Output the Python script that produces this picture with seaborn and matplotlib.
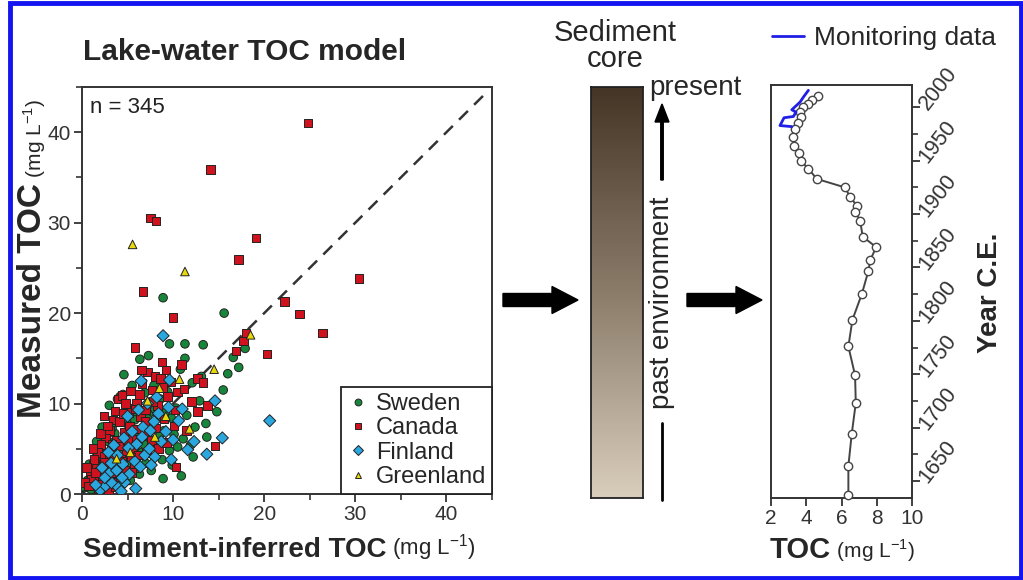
import numpy as np
import pandas as pd
import matplotlib
matplotlib.use("Agg")
import matplotlib.pyplot as plt
import seaborn as sns
from matplotlib.colors import LinearSegmentedColormap
from matplotlib.patches import Rectangle, FancyArrow
from matplotlib.ticker import MultipleLocator

# --- lake-water TOC model: sediment-inferred (x) vs measured (y), mg/L ---
sweden_x = [8.9, 15.6, 9.6, 11.3, 13.3, 6.35, 7.3, 11.3, 17.9, 16.6, 17.2, 15.5, 12.9, 13.6, 13.7, 12.2, 10.9, 8.9,
            4.2, 4.5, 3.9, 5.2, 6.1, 7.4, 8.3, 9.0, 10.1, 11.1, 10.5, 9.6, 8.2, 7.3, 6.5, 5.6, 4.8, 3.9, 3.1, 2.5,
            1.8, 1.2, 0.6, 0.3, 2.2, 3.4, 4.1, 5.0, 6.0, 7.0, 7.6, 6.3, 5.3, 4.4, 2.9, 3.6, 4.9, 5.8, 6.9, 7.9,
            8.6, 9.4, 10.3, 11.5, 12.4, 6.6, 8.8, 9.9, 1.5, 2.0, 2.7, 3.3, 12.1, 13.1, 10.8, 4.6, 5.5, 14.8,
            16.0, 1.0, 1.9, 2.8, 3.7, 4.3, 5.9, 7.8, 8.5, 9.2, 11.9, 0.8, 0.15,
            1.3, 2.4, 3.2, 4.8, 5.4, 6.8, 7.2, 8.0, 3.0, 2.2, 1.6, 9.8]
sweden_y = [21.7, 20.0, 16.6, 16.6, 16.5, 14.9, 15.3, 15.0, 16.1, 15.1, 14.0, 11.5, 10.3, 7.8, 6.3, 4.1, 2.0, 1.7,
            10.8, 11.0, 10.5, 9.5, 8.8, 9.0, 8.5, 7.0, 6.6, 6.1, 5.2, 4.8, 5.5, 6.2, 7.1, 6.5, 5.8, 5.1, 4.4, 3.8,
            3.0, 2.2, 1.5, 0.7, 1.3, 2.0, 2.7, 3.3, 3.9, 3.4, 2.6, 2.2, 1.5, 1.1, 5.8, 6.7, 7.8, 8.2, 11.2, 12.0,
            10.5, 11.3, 9.5, 8.7, 7.4, 4.6, 3.8, 3.2, 4.0, 5.1, 6.8, 7.3, 12.3, 13.0, 13.8, 13.2, 12.0, 9.1,
            13.3, 0.5, 2.1, 2.9, 3.6, 4.4, 5.3, 7.4, 6.4, 9.0, 5.4, 3.3, 0.8,
            3.5, 2.5, 1.1, 2.2, 4.4, 5.5, 8.3, 9.4, 9.8, 7.4, 5.8, 8.4]

canada_x = [24.8, 14.1, 7.5, 8.1, 19.1, 17.2, 30.4, 22.2, 6.7, 23.9, 26.4, 10.0, 20.3, 5.8, 16.9, 17.7, 10.9, 9.2,
            12.7, 13.3, 12.0, 13.8, 14.6, 10.3, 18.0,
            4.0, 4.4, 5.3, 6.6, 7.2, 8.0, 7.7, 8.6, 9.4, 10.5, 11.2, 6.0, 5.1, 6.4, 7.0, 8.3, 9.0, 10.1, 11.5,
            3.4, 3.0, 2.6, 2.1, 1.7, 1.3, 2.4, 3.2, 3.8, 4.6, 5.2, 5.9, 6.8, 7.6, 8.4, 9.3, 4.2, 4.9, 5.6, 3.3,
            2.7, 2.0, 1.4, 1.1, 1.8, 2.6, 3.5, 4.2, 4.7, 5.7, 1.6, 2.3, 3.0, 3.9, 0.9, 1.2, 2.0, 2.8, 4.1, 5.8,
            7.3, 8.1, 2.9, 3.6, 4.0, 5.0, 6.2, 7.1, 1.0, 0.5, 3.7, 2.2, 6.5, 10.2, 12.7, 8.8, 9.7, 0.3,
            1.5, 2.5, 3.1, 4.4, 5.4, 6.0, 6.9, 7.8, 8.9, 3.6, 4.8, 2.4, 1.9, 3.3, 5.5, 0.7, 4.5, 6.3]
canada_y = [41.0, 35.9, 30.5, 30.2, 28.3, 25.9, 23.8, 21.3, 22.4, 19.9, 17.8, 19.5, 15.5, 16.2, 15.8, 16.9, 14.3, 13.7,
            12.8, 12.3, 10.2, 9.8, 5.3, 3.0, 17.8,
            10.5, 10.9, 11.4, 12.2, 13.5, 13.0, 11.5, 12.8, 10.8, 11.3, 11.6, 10.0, 9.0, 8.5, 9.3, 9.8, 8.3, 7.5, 7.0,
            8.2, 7.0, 6.2, 5.5, 4.6, 3.8, 4.2, 4.8, 5.9, 6.8, 7.5, 6.1, 6.6, 5.9, 5.0, 5.7, 4.0, 4.8, 5.1, 3.2,
            2.6, 2.0, 1.6, 0.9, 0.6, 1.1, 1.4, 1.9, 2.6, 2.9, 2.8, 3.3, 3.9, 3.0, 2.3, 5.0, 6.7, 7.5, 8.0, 9.4,
            7.7, 7.3, 0.5, 0.8, 5.3, 6.0, 4.3, 4.6, 1.6, 2.9, 2.2, 1.4, 13.7, 9.3, 9.1, 14.6, 12.4, 1.3,
            2.4, 3.5, 2.4, 3.6, 4.1, 7.2, 8.0, 10.2, 11.8, 9.2, 10.0, 8.6, 1.1, 5.5, 2.4, 0.9, 8.9, 11.0]

finland_x = [8.9, 6.5, 9.6, 14.6, 20.6, 15.4, 13.7,
             2.0, 2.6, 3.3, 4.0, 4.7, 3.0, 3.8, 4.5, 5.2, 5.8, 6.4, 6.9, 7.4, 8.0, 8.7, 9.2, 10.0, 10.6, 7.9,
             6.7, 5.5, 4.6, 5.0, 6.2, 7.2, 8.2, 9.5, 11.0, 3.5, 2.5, 1.5, 5.9, 4.4, 3.2, 6.0, 7.6, 9.8, 11.6, 12.3,
             2.2, 3.9, 5.1, 6.6, 7.5, 8.4, 4.3, 2.9]
finland_y = [17.5, 12.5, 12.6, 10.3, 8.1, 6.2, 4.4,
             0.4, 0.9, 1.2, 0.7, 1.3, 2.3, 2.6, 3.3, 2.2, 3.6, 3.0, 4.3, 5.0, 4.1, 5.8, 6.9, 6.0, 8.1, 8.0,
             7.4, 6.9, 6.2, 8.6, 9.3, 10.0, 10.7, 9.6, 9.4, 5.4, 1.8, 1.0, 0.6, 1.8, 3.4, 5.5, 3.2, 3.8, 4.9, 5.8,
             2.9, 4.3, 5.1, 6.3, 7.0, 8.9, 0.3, 4.6]

greenland_x = [5.55, 11.3, 18.5, 14.5, 10.7, 8.5, 11.8, 3.8, 9.2, 7.2, 5.3, 8.0]
greenland_y = [27.6, 24.6, 17.6, 13.8, 12.7, 11.7, 7.2, 3.9, 8.6, 10.3, 4.6, 6.3]

# --- sediment core reconstruction (TOC mg/L by year C.E.) ---
core_years = [2011, 2007, 2003.5, 2000, 1995.5, 1991, 1985, 1980, 1972, 1964, 1957, 1950, 1942.5, 1933, 1925,
              1916, 1908, 1902, 1894, 1879, 1869, 1857, 1847, 1825, 1801, 1776, 1749, 1723, 1694, 1664, 1637]
core_toc = [4.65, 4.31, 4.12, 3.84, 3.65, 3.70, 3.55, 3.36, 3.27, 3.31, 3.61, 3.70, 4.12, 4.60, 6.20,
            6.49, 6.87, 6.77, 7.06, 7.20, 7.97, 7.63, 7.53, 7.15, 6.62, 6.39, 6.77, 6.81, 6.58, 6.39, 6.39]

monitor_years = [2016, 2009.7, 2005, 1997.8, 1995.6, 1991.5, 1990.3, 1983, 1982]
monitor_toc = [4.12, 3.84, 3.65, 3.18, 3.42, 3.27, 2.74, 2.51, 3.18]

countries = ["Sweden", "Canada", "Finland", "Greenland"]
palette = {"Sweden": "#17863b", "Canada": "#d0121f", "Finland": "#2ba7e0", "Greenland": "#e8d80c"}
markers = {"Sweden": "o", "Canada": "s", "Finland": "D", "Greenland": "^"}

df = pd.concat([
    pd.DataFrame({"inferred": sweden_x, "measured": sweden_y, "country": "Sweden"}),
    pd.DataFrame({"inferred": canada_x, "measured": canada_y, "country": "Canada"}),
    pd.DataFrame({"inferred": finland_x, "measured": finland_y, "country": "Finland"}),
    pd.DataFrame({"inferred": greenland_x, "measured": greenland_y, "country": "Greenland"}),
], ignore_index=True)

sns.set_theme(style="ticks")
plt.rcParams["font.family"] = ["Liberation Sans", "DejaVu Sans"]
plt.rcParams["mathtext.fontset"] = "custom"
plt.rcParams["mathtext.rm"] = "Liberation Sans"
plt.rcParams["mathtext.bf"] = "Liberation Sans:bold"
plt.rcParams["axes.edgecolor"] = "#333333"
plt.rcParams["axes.linewidth"] = 1.4

W, H = 1023, 580
fig = plt.figure(figsize=(W / 100, H / 100), dpi=100)


def px_axes(left, top, right, bottom, **kw):
    return fig.add_axes([left / W, 1 - bottom / H, (right - left) / W, (bottom - top) / H], **kw)


# ---------- scatter ----------
ax = px_axes(82, 87, 492, 494)
ax.plot([0, 44.5], [0, 44.5], color="#333333", lw=1.8, ls=(0, (5, 3.5)), zorder=1)
sns.scatterplot(data=df, x="inferred", y="measured", hue="country", style="country",
                hue_order=countries, style_order=countries, palette=palette, markers=markers,
                s=38, edgecolor="#222222", linewidth=0.7, ax=ax, zorder=3)
ax.set_xlim(0, 45)
ax.set_ylim(0, 45)
ax.xaxis.set_major_locator(MultipleLocator(10))
ax.yaxis.set_major_locator(MultipleLocator(10))
ax.xaxis.set_minor_locator(MultipleLocator(5))
ax.yaxis.set_minor_locator(MultipleLocator(5))
ax.tick_params(which="major", length=6, width=1.3, labelsize=15, colors="#333333", pad=2)
ax.tick_params(which="minor", length=4, width=1.2, colors="#333333")
ax.set_xlabel("")
ax.set_ylabel("")
ax.text(0.02, 0.975, "n = 345", transform=ax.transAxes, ha="left", va="top", fontsize=16, color="#222222")

leg = ax.get_legend()
handles = leg.legend_handles
labels = [t.get_text() for t in leg.texts]
leg.remove()
lg = ax.legend(handles, labels, loc="lower right", borderaxespad=0, fontsize=17, frameon=True,
               fancybox=False, framealpha=1, edgecolor="#222222", borderpad=0.25, labelspacing=0.1,
               handlelength=0.9, handletextpad=0.3, markerscale=0.8)
lg.get_frame().set_linewidth(1.3)

# ---------- sediment core ----------
core_cmap = LinearSegmentedColormap.from_list("core", ["#453526", "#8b7c6a", "#d9cdbb"])
axc = px_axes(591, 87, 643, 498)
axc.imshow(np.linspace(0, 1, 256)[:, None], aspect="auto", cmap=core_cmap, extent=[0, 1, 0, 1])
axc.set_xticks([])
axc.set_yticks([])
for sp in axc.spines.values():
    sp.set_color("#222222")
    sp.set_linewidth(1.3)

# ---------- TOC profile ----------
axp = px_axes(771, 85, 912, 498)
sns.lineplot(x=core_toc, y=core_years, sort=False, estimator=None, ax=axp, color="#444444", lw=1.4,
             marker="o", markersize=6, markerfacecolor="white", markeredgecolor="#444444",
             markeredgewidth=1.0, clip_on=False, zorder=3)
sns.lineplot(x=monitor_toc, y=monitor_years, sort=False, estimator=None, ax=axp, color="#1f1fe6", lw=2,
             label="Monitoring data", zorder=4)
mh, ml = axp.get_legend_handles_labels()
if axp.get_legend() is not None:
    axp.get_legend().remove()
fig.legend(mh, ml, loc="center left", bbox_to_anchor=(772 / W, 1 - 38 / H), frameon=False, fontsize=19,
           handlelength=1.2, handletextpad=0.4, borderpad=0, borderaxespad=0)
axp.set_xlim(2, 10)
axp.set_ylim(1634, 2021)
axp.set_xticks([2, 4, 6, 8, 10])
axp.yaxis.set_major_locator(MultipleLocator(50))
axp.yaxis.set_minor_locator(MultipleLocator(25))
axp.tick_params(axis="y", which="both", left=False, right=True, labelleft=False, labelright=True)
axp.tick_params(which="major", length=6, width=1.3, labelsize=15, colors="#333333", pad=2)
axp.tick_params(which="minor", length=4, width=1.2, colors="#333333")
for t in axp.get_yticklabels():
    t.set_rotation(52)
    t.set_rotation_mode("anchor")
    t.set_ha("left")
    t.set_va("center")
    t.set_fontsize(15.5)
axp.set_xlabel("")
axp.set_ylabel("")

# ---------- annotations in pixel space ----------
ov = fig.add_axes([0, 0, 1, 1], zorder=5)
ov.set_xlim(0, W)
ov.set_ylim(H, 0)
ov.axis("off")

ov.text(245, 52, "Lake-water TOC model", ha="center", va="center", fontsize=21.5, fontweight="bold")
ov.text(615, 46, "Sediment\ncore", ha="center", va="center", fontsize=21, linespacing=0.95)
ov.text(695, 88, "present", ha="center", va="center", fontsize=20)
ov.text(662, 303, "past environment", ha="center", va="center", rotation=90, fontsize=20)
ov.add_patch(FancyArrow(662, 180, 0, -76, width=2.5, head_width=14, head_length=18,
                        length_includes_head=True, color="black"))
ov.plot([662, 662], [423, 500], color="black", lw=2)
for x0 in (503, 687):
    ov.add_patch(FancyArrow(x0, 300, 75, 0, width=13, head_width=27, head_length=26,
                            length_includes_head=True, color="black"))

t1 = ov.text(83, 550, "Sediment-inferred TOC", ha="left", va="center", fontsize=20, fontweight="bold")
ov.annotate(" (mg L$^{-1}$)", xy=(1, 0), xycoords=t1, ha="left", va="bottom", fontsize=16)
t2 = ov.text(33, 418, "Measured TOC", ha="center", va="bottom", rotation=90, fontsize=24, fontweight="bold")
ov.annotate(" (mg L$^{-1}$)", xy=(1, 1), xycoords=t2, ha="right", va="bottom", rotation=90, fontsize=15)
t3 = ov.text(770, 550, "TOC", ha="left", va="center", fontsize=21, fontweight="bold")
ov.annotate(" (mg L$^{-1}$)", xy=(1, 0), xycoords=t3, ha="left", va="bottom", fontsize=15)
ov.text(990, 293, "Year C.E.", ha="center", va="center", rotation=90, fontsize=20, fontweight="bold")

ov.add_patch(Rectangle((9.5, 2.5), 1011, 575, fill=False, edgecolor="#1414f0", lw=3.5))

fig.savefig("out.png", dpi=100)
